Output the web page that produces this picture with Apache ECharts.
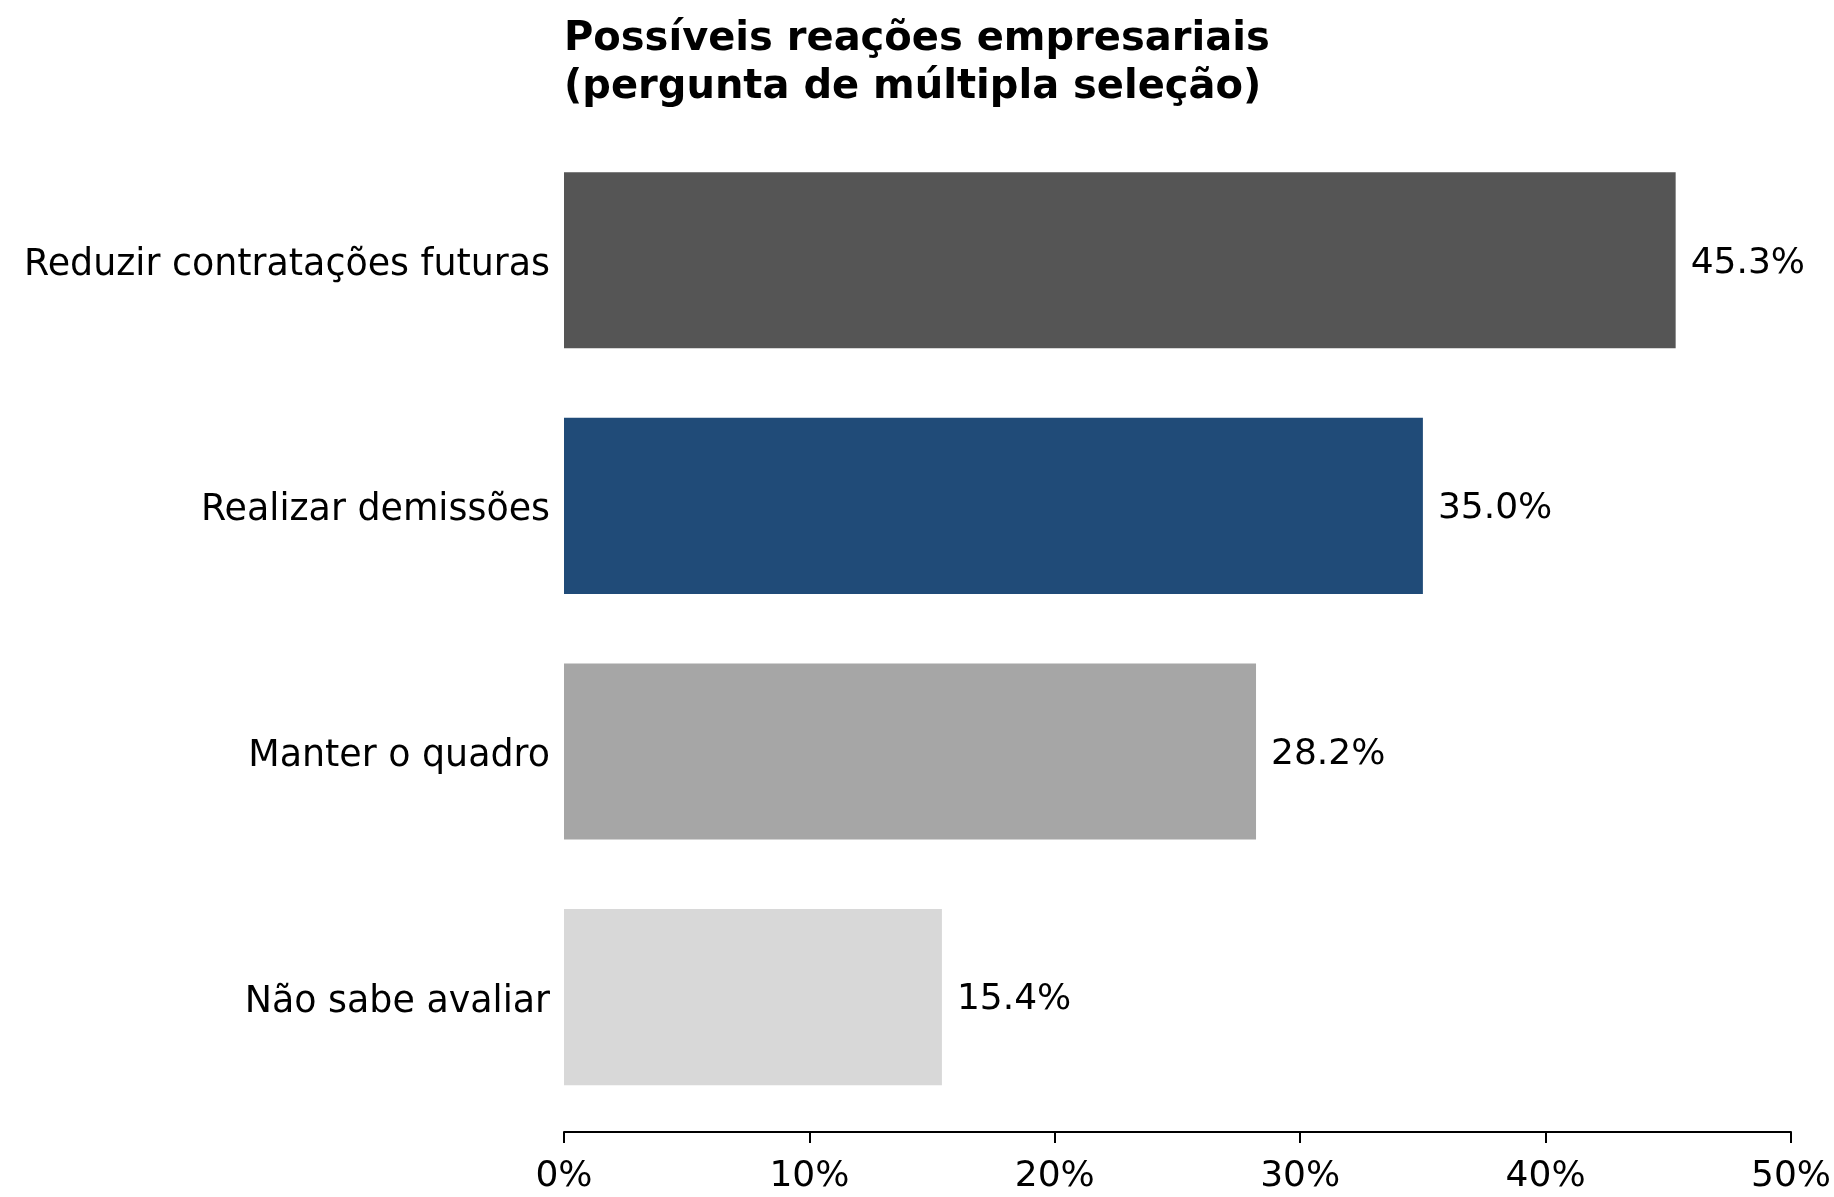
<!DOCTYPE html>
<html>
<head>
<meta charset="utf-8">
<script src="https://cdn.jsdelivr.net/npm/echarts@6/dist/echarts.min.js"></script>
<style>
  html, body { margin: 0; padding: 0; background: #ffffff; }
  #chart { width: 1834px; height: 1197px; }
</style>
</head>
<body>
<div id="chart"></div>
<script>
  const categories = ['Reduzir contratações futuras', 'Realizar demissões', 'Manter o quadro', 'Não sabe avaliar']
  const values = [45.3, 35.0, 28.2, 15.4]
  const barColors = ['#555555', '#204b78', '#a6a6a6', '#d8d8d8']
  const xTicks = [0, 10, 20, 30, 40, 50]

  const font = 'DejaVu Sans'

  const chart = echarts.init(document.getElementById('chart'), null, { renderer: 'canvas' })

  chart.setOption({
    animation: false,
    backgroundColor: '#ffffff',
    title: {
      text: 'Possíveis reações empresariais\n(pergunta de múltipla seleção)',
      left: 564,
      top: 16,
      padding: 0,
      textStyle: { fontFamily: font, fontWeight: 'bold', fontSize: 40, lineHeight: 48, color: '#000000' },
    },
    grid: { left: 564, right: 43, top: 137.5, height: 982.4, containLabel: false },
    xAxis: {
      type: 'value',
      min: xTicks[0],
      max: xTicks[xTicks.length - 1],
      interval: 10,
      offset: 12,
      axisLine: { show: true, lineStyle: { color: '#000000', width: 2 } },
      axisTick: { show: true, length: 11, lineStyle: { color: '#000000', width: 2 } },
      splitLine: { show: false },
      axisLabel: {
        margin: 27,
        fontFamily: font,
        fontSize: 36,
        color: '#000000',
        formatter: (v) => v + '%',
      },
    },
    yAxis: {
      type: 'category',
      data: categories,
      inverse: true,
      axisLine: { show: false },
      axisTick: { show: false },
      axisLabel: {
        margin: 14,
        formatter: (v) => '{c|' + v + '}',
        rich: {
          c: { fontFamily: font, fontSize: 36.4, color: '#000000', padding: [10, 0, 0, 0] },
        },
      },
    },
    series: [
      {
        type: 'bar',
        barWidth: '71.7%',
        data: values.map((v, i) => ({ value: v, itemStyle: { color: barColors[i] } })),
        label: {
          show: true,
          position: 'right',
          distance: 15,
          offset: [0, 3],
          fontFamily: font,
          fontSize: 36,
          color: '#000000',
          formatter: (p) => p.value.toFixed(1) + '%',
        },
      },
    ],
  })
</script>
</body>
</html>
